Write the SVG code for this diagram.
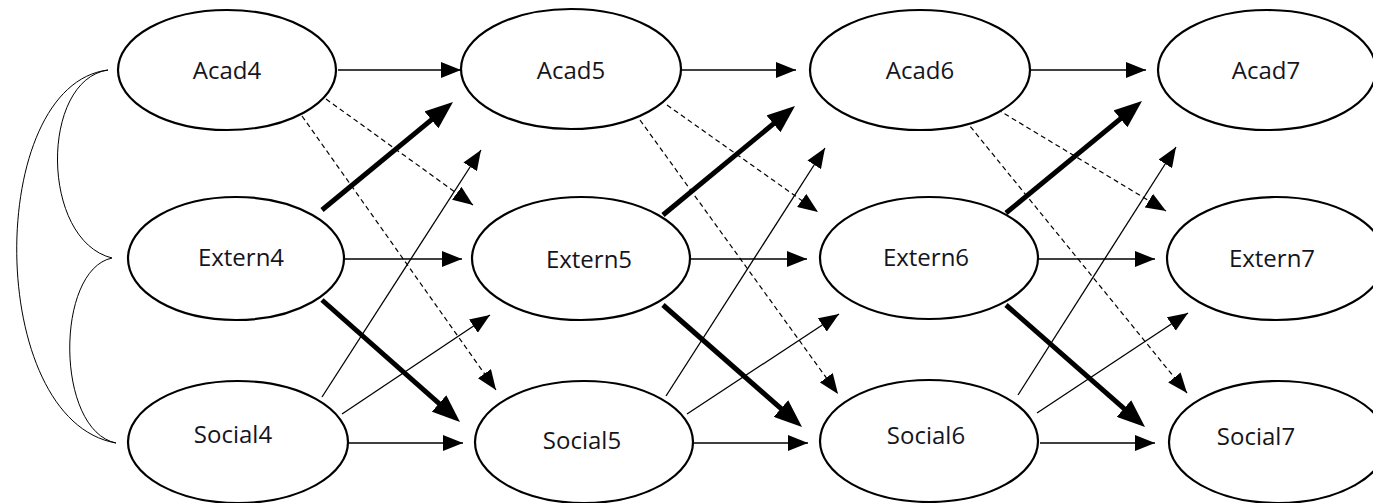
<svg xmlns="http://www.w3.org/2000/svg" width="1373" height="503" viewBox="0 0 1373 503">
<style>
.node ellipse{fill:#fff;stroke:#000;stroke-width:2.2}
.node text{font-family:"Open Sans","Noto Sans","Liberation Sans",sans-serif;font-size:24px;fill:#15151c;text-anchor:middle}
.thin{fill:none;stroke:#000;stroke-width:1.3;marker-end:url(#ah)}
.dash{fill:none;stroke:#000;stroke-width:1.2;stroke-dasharray:5 3.5;marker-end:url(#ah)}
.bold{fill:none;stroke:#000;stroke-width:5;marker-end:url(#ahb)}
.corr{fill:none;stroke:#000;stroke-width:1}
</style>
<defs>
<marker id="ah" markerUnits="userSpaceOnUse" markerWidth="20" markerHeight="16" refX="20" refY="8" orient="auto" viewBox="0 0 20 16">
<path d="M0,0 L20,8 L0,16 Z" fill="#000" stroke="none"/>
</marker>
<marker id="ahb" markerUnits="userSpaceOnUse" markerWidth="28" markerHeight="22" refX="18" refY="11" orient="auto" viewBox="0 0 28 22">
<path d="M0,0 L28,11 L0,22 Z" fill="#000" stroke="none"/>
</marker>
</defs>
<rect width="1373" height="503" fill="#fff"/>
<g id="connectors">
<path class="corr" d="M108,70 C40,80 40,240 112,258"/>
<path class="corr" d="M108,70 C-15,85 -15,420 116,443"/>
<path class="corr" d="M112,258 C55,270 55,430 116,443"/>
<path class="thin" d="M338,70 L461,70"/>
<path class="thin" d="M682,70 L796,70"/>
<path class="thin" d="M1031,70 L1146,70"/>
<path class="thin" d="M344,259 L462,259"/>
<path class="thin" d="M690,259 L807,259"/>
<path class="thin" d="M1038,259 L1155,259"/>
<path class="thin" d="M348,443 L463,443"/>
<path class="thin" d="M693,443 L808,443"/>
<path class="thin" d="M1040,443 L1155,443"/>
<path class="dash" d="M326,99 L473,205"/>
<path class="dash" d="M302,116 L496,390"/>
<path class="dash" d="M667,105 L818,212"/>
<path class="dash" d="M640,120 L838,394"/>
<path class="dash" d="M990,105 L1166,211"/>
<path class="dash" d="M965,120 L1187,393"/>
<path class="thin" d="M322,397 L481,150"/>
<path class="thin" d="M342,414 L490,315"/>
<path class="thin" d="M666,396 L825,148"/>
<path class="thin" d="M687,414 L839,314"/>
<path class="thin" d="M1018,395 L1176,147"/>
<path class="thin" d="M1037,413 L1188,313"/>
<path class="bold" d="M322,210 L445.3,108.4"/>
<path class="bold" d="M322,300 L452.5,415.4"/>
<path class="bold" d="M663,215 L787.3,112.4"/>
<path class="bold" d="M663,305 L794.5,420.4"/>
<path class="bold" d="M1006,213 L1134.3,107.4"/>
<path class="bold" d="M1006,305 L1137.5,420.4"/>
</g>
<g id="Acad4" class="node"><ellipse cx="227" cy="70" rx="109" ry="60"/><text x="227" y="79">Acad4</text></g>
<g id="Extern4" class="node"><ellipse cx="236" cy="258.5" rx="108" ry="61.5"/><text x="241" y="266">Extern4</text></g>
<g id="Social4" class="node"><ellipse cx="238" cy="442" rx="110" ry="61"/><text x="233" y="443">Social4</text></g>
<g id="Acad5" class="node"><ellipse cx="571" cy="69" rx="110" ry="60"/><text x="571" y="79">Acad5</text></g>
<g id="Extern5" class="node"><ellipse cx="581" cy="258.5" rx="109" ry="61.5"/><text x="589" y="268">Extern5</text></g>
<g id="Social5" class="node"><ellipse cx="584" cy="442" rx="109" ry="61"/><text x="582" y="449">Social5</text></g>
<g id="Acad6" class="node"><ellipse cx="920" cy="70" rx="110" ry="60"/><text x="920" y="79">Acad6</text></g>
<g id="Extern6" class="node"><ellipse cx="929" cy="258" rx="109" ry="61"/><text x="926" y="266">Extern6</text></g>
<g id="Social6" class="node"><ellipse cx="929" cy="441" rx="109" ry="61"/><text x="926" y="444">Social6</text></g>
<g id="Acad7" class="node"><ellipse cx="1267" cy="70" rx="109" ry="60"/><text x="1266" y="79">Acad7</text></g>
<g id="Extern7" class="node"><ellipse cx="1276" cy="258.5" rx="109" ry="61.5"/><text x="1272" y="267">Extern7</text></g>
<g id="Social7" class="node"><ellipse cx="1278" cy="442" rx="109" ry="61"/><text x="1256" y="445">Social7</text></g>
</svg>
